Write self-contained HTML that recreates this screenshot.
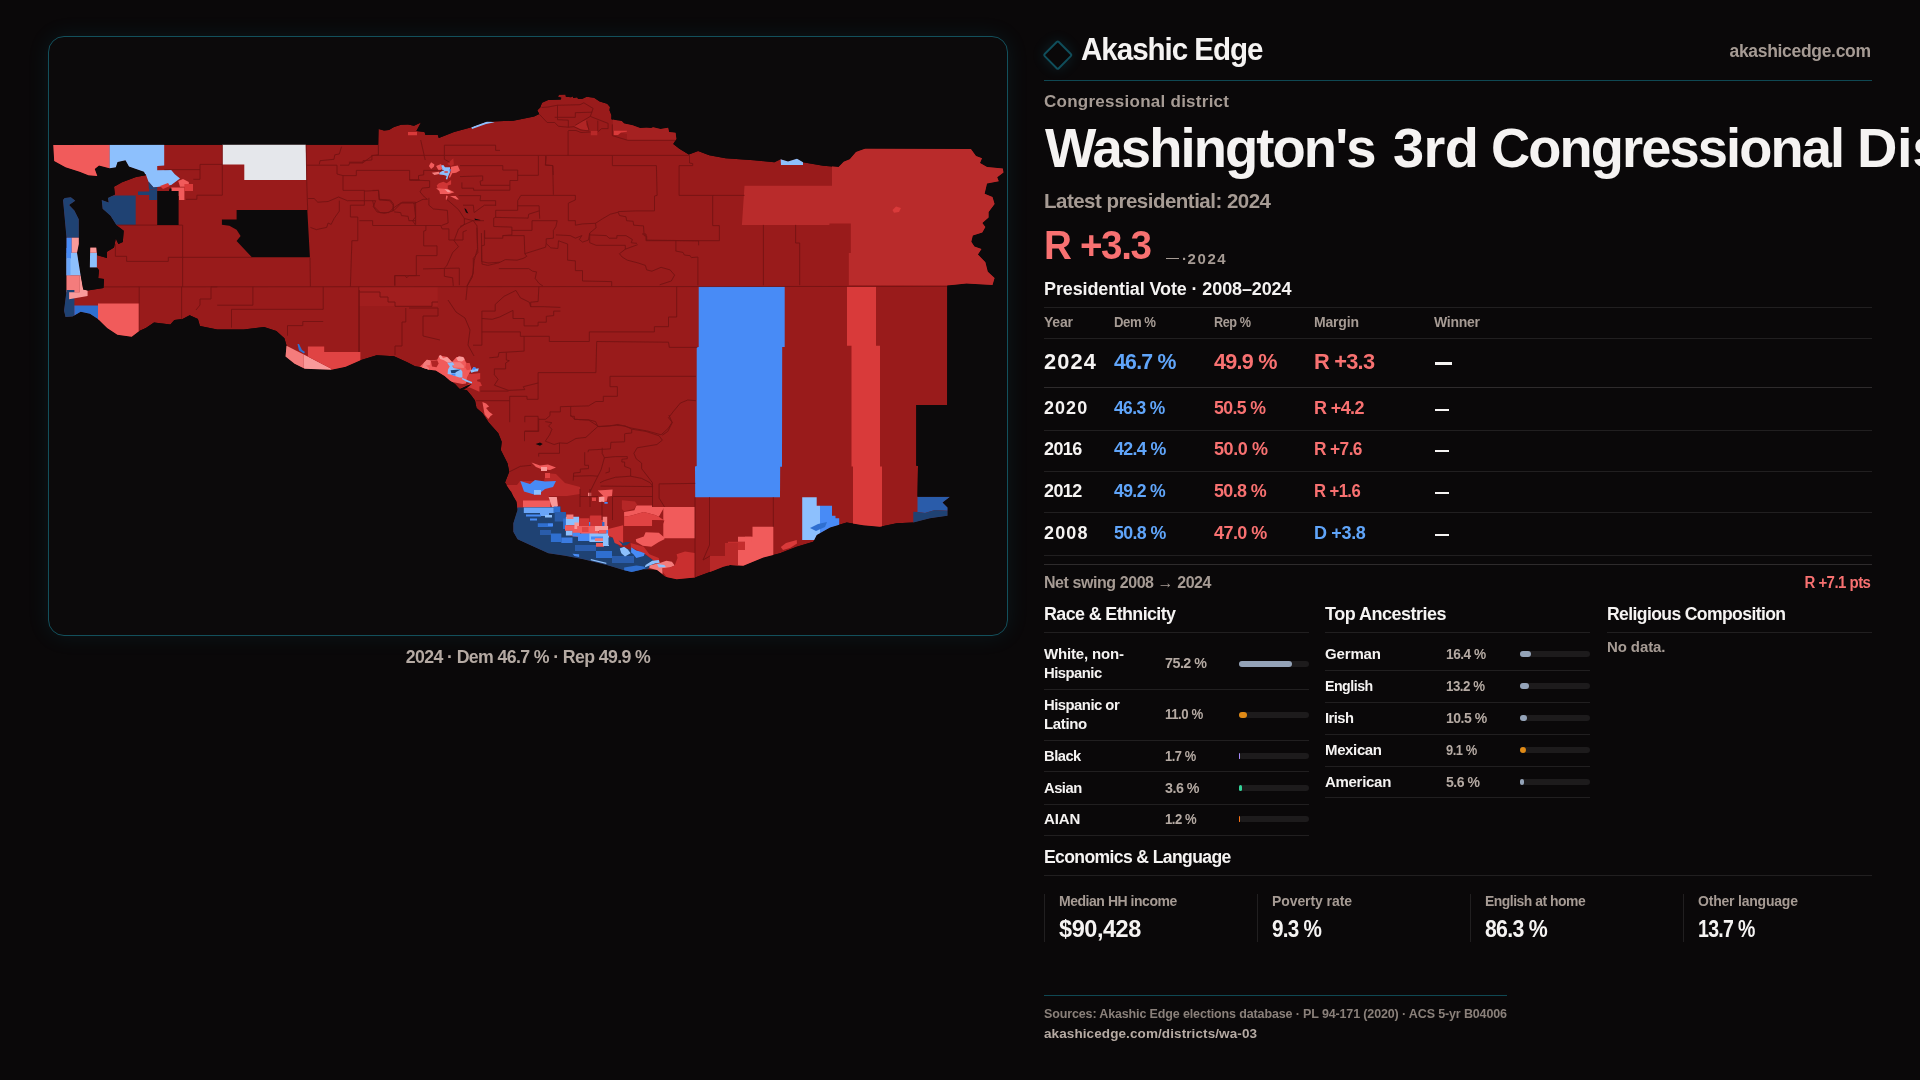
<!DOCTYPE html><html><head><meta charset="utf-8"><title>Washington's 3rd Congressional District</title><style>
html,body{margin:0;padding:0;background:#0a0809;}
body{width:1920px;height:1080px;overflow:hidden;position:relative;font-family:"Liberation Sans",sans-serif;}
.t{position:absolute;white-space:nowrap;line-height:1;font-weight:700;}
.b{position:absolute;}
.tl{position:absolute;left:0;top:0;width:1920px;height:1080px;will-change:transform;}
.frame{position:absolute;left:48px;top:36px;width:958px;height:598px;border:1px solid #13505c;border-radius:16px;background:#0c0a0b;box-shadow:0 0 22px rgba(30,170,200,0.10);overflow:hidden;}
.map{position:absolute;left:-1px;top:-1px;}
.logo{position:absolute;left:1047.2px;top:43.7px;width:17.5px;height:17.5px;border:2px solid #104e5b;border-radius:2.5px;transform:rotate(45deg);box-shadow:0 0 14px rgba(30,170,200,0.16);}
</style></head><body>
<div class="frame"><svg class="map" viewBox="48 36 960 600" width="960" height="600" shape-rendering="geometricPrecision">
<defs><clipPath id="d"><polygon points="53.3,144.9 378.3,144.8 378.7,128.9 384.0,130.5 388.9,129.9 394.0,127.0 401.0,124.8 408.0,124.6 414.0,125.8 421.0,122.4 416.4,131.0 424.5,132.0 425.5,135.0 437.8,135.0 438.8,138.0 454.0,132.0 471.4,127.3 486.7,121.8 513.2,120.7 534.1,116.4 539.2,114.1 537.3,110.3 540.2,107.5 542.0,102.8 548.1,100.0 560.8,99.5 561.3,97.7 558.0,96.7 558.9,94.8 565.5,94.6 565.9,96.7 571.1,97.2 572.5,96.3 573.4,98.1 577.2,97.2 578.1,99.1 581.9,99.1 586.6,96.7 594.1,97.7 599.7,101.4 607.2,103.8 610.0,107.0 609.5,110.3 611.4,115.0 611.4,119.2 617.5,120.6 621.7,121.1 624.1,123.4 632.5,125.3 640.0,128.1 646.6,127.7 651.2,128.1 653.1,127.2 660.6,129.1 668.1,127.7 669.1,131.9 675.6,132.8 676.4,138.9 673.3,144.1 679.4,148.8 688.8,154.4 698.1,151.1 709.3,155.2 725.6,158.2 754.0,160.3 774.4,162.3 780.5,159.3 788.0,161.5 797.0,158.8 803.0,162.3 823.3,165.8 838.6,167.0 843.7,161.7 849.8,159.3 856.0,152.1 865.0,148.7 970.9,148.9 976.0,156.0 982.0,158.3 980.0,163.0 987.0,167.0 1002.8,168.6 1003.5,172.5 997.2,177.2 998.8,181.2 987.0,183.5 984.6,193.8 992.5,196.9 994.6,204.0 988.6,211.9 988.6,217.4 982.3,222.9 985.4,226.9 982.3,232.4 972.8,235.5 971.3,241.8 974.4,246.5 981.5,248.9 977.9,254.4 985.4,262.3 987.8,271.7 994.6,278.0 992.5,285.1 966.5,283.5 947.3,285.6 947.2,404.9 916.3,404.9 916.3,465.8 918.0,466.0 917.5,496.7 950.0,496.7 942.5,502.5 947.5,507.5 947.5,515.8 930.0,518.3 913.3,522.5 896.7,523.3 880.0,526.7 863.3,525.3 846.7,522.5 830.0,527.5 816.7,535.0 813.3,541.7 796.7,546.7 780.0,553.3 763.3,557.5 743.3,565.8 730.0,565.0 723.3,566.7 713.3,570.8 695.0,577.5 676.7,579.2 665.0,576.7 656.7,570.0 643.3,569.2 631.7,572.0 623.3,570.0 606.7,565.0 583.3,559.2 565.0,555.8 548.3,553.3 531.7,545.8 517.5,539.2 513.3,531.7 513.3,523.3 517.5,510.0 516.7,501.7 510.8,491.7 505.0,482.5 509.2,471.7 507.5,463.3 500.8,450.0 501.7,441.7 498.3,433.3 488.7,422.4 482.6,413.2 476.5,408.0 475.0,400.6 471.3,395.4 466.9,390.2 459.4,388.7 455.0,384.0 449.8,380.6 444.6,376.1 435.7,370.6 429.0,369.8 421.0,367.2 415.0,366.2 407.2,362.3 394.0,356.2 376.7,355.2 360.4,360.3 345.6,366.8 331.3,369.8 304.8,368.8 294.6,363.7 285.5,356.6 286.5,345.4 284.4,338.2 276.3,331.1 264.0,327.0 243.7,329.5 217.2,329.5 199.9,326.0 197.9,318.9 189.7,315.2 182.6,318.9 174.4,319.9 170.4,324.6 162.2,323.4 154.0,322.6 145.9,328.0 139.2,331.1 131.7,336.8 117.4,334.8 107.2,328.0 98.0,318.9 89.9,313.8 80.7,311.8 72.6,316.4 65.5,316.9 64.0,310.7 66.5,291.0 66.5,237.7 63.0,200.0 64.7,198.1 70.9,197.2 75.3,200.7 69.1,205.1 74.4,210.4 78.8,219.2 78.8,243.9 77.0,252.7 80.6,275.6 83.2,289.6 87.6,290.5 103.5,287.9 104.0,279.1 98.2,278.2 99.0,270.3 96.9,267.6 89.7,267.6 90.3,247.4 96.4,247.4 97.3,255.3 107.0,258.0 107.0,251.8 114.0,247.4 115.8,238.6 118.4,243.9 122.8,242.1 123.7,230.7 116.7,225.4 110.5,215.7 102.6,208.7 101.7,199.9 108.7,202.5 107.9,198.1 114.9,194.6 114.0,186.7 122.0,182.3 136.0,177.0 145.7,175.2 144.0,171.7 129.0,166.4 125.5,160.2 117.5,162.0 115.8,167.3 109.6,168.2 99.0,165.5 94.7,169.0 97.3,176.1 88.5,175.2 79.7,171.7 65.6,167.3 54.2,161.1"/></clipPath></defs>
<g clip-path="url(#d)">
<polygon points="53.3,144.9 378.3,144.8 378.7,128.9 384.0,130.5 388.9,129.9 394.0,127.0 401.0,124.8 408.0,124.6 414.0,125.8 421.0,122.4 416.4,131.0 424.5,132.0 425.5,135.0 437.8,135.0 438.8,138.0 454.0,132.0 471.4,127.3 486.7,121.8 513.2,120.7 534.1,116.4 539.2,114.1 537.3,110.3 540.2,107.5 542.0,102.8 548.1,100.0 560.8,99.5 561.3,97.7 558.0,96.7 558.9,94.8 565.5,94.6 565.9,96.7 571.1,97.2 572.5,96.3 573.4,98.1 577.2,97.2 578.1,99.1 581.9,99.1 586.6,96.7 594.1,97.7 599.7,101.4 607.2,103.8 610.0,107.0 609.5,110.3 611.4,115.0 611.4,119.2 617.5,120.6 621.7,121.1 624.1,123.4 632.5,125.3 640.0,128.1 646.6,127.7 651.2,128.1 653.1,127.2 660.6,129.1 668.1,127.7 669.1,131.9 675.6,132.8 676.4,138.9 673.3,144.1 679.4,148.8 688.8,154.4 698.1,151.1 709.3,155.2 725.6,158.2 754.0,160.3 774.4,162.3 780.5,159.3 788.0,161.5 797.0,158.8 803.0,162.3 823.3,165.8 838.6,167.0 843.7,161.7 849.8,159.3 856.0,152.1 865.0,148.7 970.9,148.9 976.0,156.0 982.0,158.3 980.0,163.0 987.0,167.0 1002.8,168.6 1003.5,172.5 997.2,177.2 998.8,181.2 987.0,183.5 984.6,193.8 992.5,196.9 994.6,204.0 988.6,211.9 988.6,217.4 982.3,222.9 985.4,226.9 982.3,232.4 972.8,235.5 971.3,241.8 974.4,246.5 981.5,248.9 977.9,254.4 985.4,262.3 987.8,271.7 994.6,278.0 992.5,285.1 966.5,283.5 947.3,285.6 947.2,404.9 916.3,404.9 916.3,465.8 918.0,466.0 917.5,496.7 950.0,496.7 942.5,502.5 947.5,507.5 947.5,515.8 930.0,518.3 913.3,522.5 896.7,523.3 880.0,526.7 863.3,525.3 846.7,522.5 830.0,527.5 816.7,535.0 813.3,541.7 796.7,546.7 780.0,553.3 763.3,557.5 743.3,565.8 730.0,565.0 723.3,566.7 713.3,570.8 695.0,577.5 676.7,579.2 665.0,576.7 656.7,570.0 643.3,569.2 631.7,572.0 623.3,570.0 606.7,565.0 583.3,559.2 565.0,555.8 548.3,553.3 531.7,545.8 517.5,539.2 513.3,531.7 513.3,523.3 517.5,510.0 516.7,501.7 510.8,491.7 505.0,482.5 509.2,471.7 507.5,463.3 500.8,450.0 501.7,441.7 498.3,433.3 488.7,422.4 482.6,413.2 476.5,408.0 475.0,400.6 471.3,395.4 466.9,390.2 459.4,388.7 455.0,384.0 449.8,380.6 444.6,376.1 435.7,370.6 429.0,369.8 421.0,367.2 415.0,366.2 407.2,362.3 394.0,356.2 376.7,355.2 360.4,360.3 345.6,366.8 331.3,369.8 304.8,368.8 294.6,363.7 285.5,356.6 286.5,345.4 284.4,338.2 276.3,331.1 264.0,327.0 243.7,329.5 217.2,329.5 199.9,326.0 197.9,318.9 189.7,315.2 182.6,318.9 174.4,319.9 170.4,324.6 162.2,323.4 154.0,322.6 145.9,328.0 139.2,331.1 131.7,336.8 117.4,334.8 107.2,328.0 98.0,318.9 89.9,313.8 80.7,311.8 72.6,316.4 65.5,316.9 64.0,310.7 66.5,291.0 66.5,237.7 63.0,200.0 64.7,198.1 70.9,197.2 75.3,200.7 69.1,205.1 74.4,210.4 78.8,219.2 78.8,243.9 77.0,252.7 80.6,275.6 83.2,289.6 87.6,290.5 103.5,287.9 104.0,279.1 98.2,278.2 99.0,270.3 96.9,267.6 89.7,267.6 90.3,247.4 96.4,247.4 97.3,255.3 107.0,258.0 107.0,251.8 114.0,247.4 115.8,238.6 118.4,243.9 122.8,242.1 123.7,230.7 116.7,225.4 110.5,215.7 102.6,208.7 101.7,199.9 108.7,202.5 107.9,198.1 114.9,194.6 114.0,186.7 122.0,182.3 136.0,177.0 145.7,175.2 144.0,171.7 129.0,166.4 125.5,160.2 117.5,162.0 115.8,167.3 109.6,168.2 99.0,165.5 94.7,169.0 97.3,176.1 88.5,175.2 79.7,171.7 65.6,167.3 54.2,161.1" fill="#991b1b"/>
<polygon points="613.0,117.0 682.0,117.0 682.0,140.2 627.0,140.2 627.0,134.0 613.0,131.0" fill="#a52121"/>
<polygon points="574.4,126.3 580.9,121.6 587.0,119.7 586.1,124.4 588.9,130.0 585.6,130.9 580.0,129.1" fill="#b02525"/>
<polygon points="590.8,130.9 597.3,130.9 597.3,135.2 590.8,135.2" fill="#b82828"/>
<polygon points="613.8,130.8 626.9,130.8 626.9,131.8 621.0,132.5 618.0,135.0 613.8,135.0" fill="#d93a3a"/>
<polygon points="408.0,132.0 417.0,132.0 417.0,135.2 408.0,135.2" fill="#d93a3a"/>
<polygon points="358.5,286.7 437.8,286.7 437.8,306.0 358.5,306.0" fill="#a11e1e"/>
<polygon points="52.0,144.0 109.6,144.0 109.6,182.0 52.0,182.0" fill="#f15b5b"/>
<polygon points="109.6,144.0 164.2,144.0 164.2,165.5 157.2,166.0 157.2,170.3 171.2,170.0 174.8,174.3 180.0,178.4 171.2,184.9 164.2,186.1 153.6,187.5 148.4,181.4 145.7,174.0 109.6,174.0" fill="#8dc0fd"/>
<polygon points="222.3,144.0 305.8,144.0 306.5,179.9 244.3,179.9 244.3,164.6 222.3,164.6" fill="#e5e7eb"/>
<polygon points="100.0,195.5 135.7,195.5 135.7,225.0 100.0,225.0" fill="#1f4273"/>
<polygon points="138.0,191.5 149.2,191.5 149.2,189.5 157.2,189.5 157.2,200.0 149.2,200.0 149.2,195.0 138.0,195.0" fill="#1f4273"/>
<polygon points="148.4,181.4 153.6,187.5 157.2,187.0 157.2,189.5 149.0,189.5" fill="#1f4273"/>
<polygon points="171.2,187.5 184.4,187.5 184.4,199.9 179.0,199.9 179.0,196.0 171.2,196.0" fill="#f15b5b"/>
<polygon points="178.3,181.0 183.0,179.0 188.8,182.0 188.8,186.7 180.0,186.7" fill="#f15b5b"/>
<polygon points="184.4,184.0 193.0,184.0 193.0,191.0 184.4,191.0" fill="#d93a3a"/>
<polygon points="160.0,186.0 168.0,183.0 170.0,186.0 163.0,189.0" fill="#d93a3a"/>
<polygon points="60.0,195.0 80.0,195.0 80.0,237.7 60.0,237.7" fill="#1f4273"/>
<polygon points="64.0,237.7 71.8,237.7 71.8,252.7 64.0,252.7" fill="#488bf6"/>
<polygon points="71.8,237.7 80.0,237.7 80.0,252.7 71.8,252.7" fill="#f99a9a"/>
<polygon points="64.0,252.7 82.0,252.7 82.0,275.6 64.0,275.6" fill="#8dc0fd"/>
<polygon points="64.0,248.0 71.0,248.0 71.0,258.5 64.0,258.5" fill="#488bf6"/>
<polygon points="64.0,258.5 70.5,258.5 70.5,275.6 64.0,275.6" fill="#6aa5f8"/>
<polygon points="64.0,275.6 79.7,275.6 79.7,292.3 64.0,292.3" fill="#f47c7c"/>
<polygon points="60.0,290.0 74.4,290.0 74.4,320.0 60.0,320.0" fill="#1f4273"/>
<polygon points="79.7,275.6 81.0,275.6 83.2,289.6 87.6,290.5 87.6,296.0 69.1,299.3 69.1,292.3 79.7,292.3" fill="#f99a9a"/>
<polygon points="74.4,305.5 99.6,305.5 99.6,320.0 74.4,320.0" fill="#2f6fd0"/>
<polygon points="89.5,252.7 96.9,252.7 96.9,267.8 89.5,267.8" fill="#8dc0fd"/>
<polygon points="90.0,247.2 96.6,247.2 96.6,252.7 90.0,252.7" fill="#f99a9a"/>
<polygon points="98.0,303.6 139.2,303.6 139.2,342.0 98.0,342.0" fill="#f15b5b"/>
<polygon points="283.0,345.8 286.5,345.8 303.8,354.5 303.8,371.0 283.0,371.0" fill="#f47c7c"/>
<polygon points="303.8,354.5 331.3,368.8 331.3,372.0 303.8,372.0" fill="#f99a9a"/>
<polygon points="307.9,346.4 324.2,346.4 324.2,351.9 360.4,351.9 360.4,372.0 331.3,372.0 331.3,368.8 307.9,356.5" fill="#e04343"/>
<polygon points="297.5,344.0 299.0,344.0 302.0,350.0 305.0,352.0 304.0,353.4 299.0,350.5" fill="#2f6fd0"/>
<polygon points="459.4,388.7 466.9,385.0 471.3,382.0 462.4,377.6 463.9,373.1 471.3,373.9 480.2,373.1 480.2,379.1 477.2,379.8 477.2,381.3 480.2,382.0 482.0,385.7 479.4,386.5 479.4,391.7 469.8,387.6" fill="#d03535"/>
<polygon points="420.0,366.5 423.9,362.8 426.9,359.8 430.6,360.6 437.2,359.8 439.4,355.4 447.6,356.9 452.0,362.0 456.5,356.9 463.9,357.6 466.1,362.8 469.8,363.5 471.3,369.4 466.9,377.6 466.1,383.5 462.4,384.0 449.8,381.5 444.6,377.0 436.5,372.0 429.1,372.0" fill="#f15b5b"/>
<polygon points="430.9,360.9 437.2,360.2 438.7,363.5 436.5,367.2 432.0,366.5" fill="#b02424"/>
<polygon points="422.4,367.0 423.9,362.8 426.9,359.8 430.6,360.6 430.0,365.0 426.0,365.5 429.0,368.0 429.1,372.0 422.0,369.0" fill="#f47c7c"/>
<polygon points="438.7,356.1 440.9,355.0 443.1,358.3 446.9,356.9 452.0,361.7 447.6,362.4 443.9,360.2 440.2,359.1" fill="#f99a9a"/>
<polygon points="456.2,358.0 459.0,356.3 463.2,357.0 464.6,359.5 462.0,361.6 458.0,361.0" fill="#f99a9a"/>
<polygon points="452.8,362.2 460.2,362.2 463.9,365.7 463.9,368.0 453.5,367.6" fill="#f47c7c"/>
<polygon points="466.1,362.8 469.8,363.5 470.2,369.4 466.9,370.2 465.4,367.2" fill="#e04343"/>
<polygon points="447.2,362.8 452.8,362.2 454.3,365.0 452.0,365.7 453.5,368.0 460.9,369.4 462.4,371.7 462.4,377.6 459.4,377.6 455.0,376.1 450.6,374.6 447.6,373.9 448.0,369.4 449.8,366.5" fill="#8dc0fd"/>
<polygon points="450.6,370.2 456.5,369.8 460.9,369.4 456.5,371.7 455.0,373.1 451.3,373.1" fill="#1f4273"/>
<polygon points="451.3,373.5 455.4,373.5 455.4,376.1 453.5,375.4 451.3,374.6" fill="#488bf6"/>
<polygon points="462.4,378.0 472.0,382.0 472.0,383.5 466.9,382.0 461.7,379.1" fill="#8dc0fd"/>
<polygon points="470.2,370.6 472.0,369.4 473.5,367.2 476.5,368.7 478.7,368.3 478.0,371.3 474.3,371.7 471.3,372.8" fill="#8dc0fd"/>
<polygon points="472.0,369.4 473.5,366.9 475.4,367.2 476.5,368.7 474.3,369.8" fill="#488bf6"/>
<polygon points="459.0,389.2 466.9,385.4 472.0,383.8 467.5,387.6 462.0,390.4" fill="#0c0a0b"/>
<polygon points="482.4,402.0 486.1,403.5 489.1,406.5 486.1,408.0 489.1,411.7 492.8,414.6 490.6,416.1 488.3,419.1 484.6,414.6" fill="#f15b5b"/>
<polygon points="428.9,166.1 431.1,162.2 434.4,164.4 433.9,166.7 431.1,168.9" fill="#f15b5b"/>
<polygon points="436.1,166.1 441.1,163.9 442.2,168.9 438.9,171.1" fill="#f15b5b"/>
<polygon points="431.7,172.8 438.9,171.7 439.4,173.9 434.4,175.0" fill="#f47c7c"/>
<polygon points="447.2,163.9 453.3,158.3 453.9,164.4 451.1,166.1" fill="#b82828"/>
<polygon points="451.1,166.7 457.8,165.6 460.0,170.6 456.1,172.8 452.2,173.3 450.0,177.8 448.9,177.2 450.6,172.2" fill="#f15b5b"/>
<polygon points="441.1,165.6 443.3,165.0 445.0,167.2 450.0,167.2 450.0,172.2 448.3,176.1 447.2,179.4 445.8,178.9 446.7,176.1 443.9,175.0 439.4,174.4 439.4,172.8 442.2,171.1 442.2,168.3" fill="#8dc0fd"/>
<polygon points="444.4,171.2 447.8,171.2 447.8,172.8 444.4,172.8" fill="#d93a3a"/>
<polygon points="449.4,169.0 450.6,169.0 450.6,171.5 449.4,171.5" fill="#488bf6"/>
<polygon points="436.7,185.6 438.9,183.3 443.3,181.7 446.7,183.3 451.1,180.0 451.1,184.4 447.8,185.6 447.8,188.9 437.8,188.9" fill="#d03535"/>
<polygon points="436.1,188.3 447.8,188.9 454.4,192.2 448.9,193.9 440.0,193.9 439.4,191.1" fill="#f15b5b"/>
<polygon points="444.4,188.9 448.9,190.0 451.1,192.2 447.8,192.2" fill="#f99a9a"/>
<polygon points="446.1,195.6 447.8,196.1 446.7,200.0 445.8,199.4" fill="#f15b5b"/>
<polygon points="450.0,196.1 455.6,196.1 458.9,199.4 456.7,199.4" fill="#f15b5b"/>
<polygon points="471.4,127.3 480.0,123.5 486.7,121.3 494.8,122.3 486.0,124.0 479.0,126.5 472.0,129.0" fill="#8dc0fd"/>
<polygon points="464.3,208.3 466.0,209.0 468.3,213.4 466.0,212.5" fill="#0c0a0b"/>
<polygon points="474.4,218.5 480.6,220.0 480.0,220.8 475.0,220.0" fill="#0c0a0b"/>
<polygon points="535.6,444.0 540.0,442.6 542.7,444.0 540.0,445.8" fill="#0c0a0b"/>
<polygon points="832.0,150.0 1010.0,140.0 1010.0,290.0 947.3,285.6 848.8,285.2 848.8,253.0 850.8,253.0 850.8,223.4 829.4,223.4 829.4,224.9 741.9,224.9 744.5,185.7 832.0,185.7" fill="#b92b2b"/>
<polygon points="892.5,210.0 896.0,206.4 901.0,208.0 899.0,212.0 894.0,212.7" fill="#d93a3a"/>
<polygon points="780.5,157.0 803.0,157.0 803.0,165.0 781.0,165.0" fill="#8dc0fd"/>
<polygon points="698.7,286.3 784.7,286.3 784.7,347.0 782.2,347.0 782.0,466.7 780.2,466.7 780.0,497.3 695.2,497.3 695.0,466.6 696.7,466.0 696.7,347.0 698.7,347.0" fill="#488bf6"/>
<polygon points="847.0,286.3 876.0,286.3 876.0,345.8 880.0,345.8 880.0,466.6 882.0,466.6 882.0,530.0 853.0,530.0 853.0,466.6 851.5,466.6 851.5,345.8 847.0,345.8" fill="#d93a3a"/>
<polygon points="917.5,496.7 952.0,496.7 952.0,511.0 935.0,510.0 925.0,513.0 917.5,512.0" fill="#2a5caa"/>
<polygon points="913.3,511.7 917.5,512.0 925.0,513.0 935.0,510.0 952.0,511.0 952.0,520.0 913.3,525.0" fill="#1f4273"/>
<polygon points="802.2,497.2 816.7,497.2 816.7,505.8 820.0,505.8 820.0,540.0 802.2,540.0" fill="#8dc0fd"/>
<polygon points="820.0,505.8 832.0,505.8 832.0,515.8 835.5,515.8 835.5,518.3 839.2,518.3 839.2,532.0 820.0,540.0" fill="#488bf6"/>
<polygon points="810.0,528.0 818.0,524.0 827.0,522.0 825.0,527.0 816.0,531.0" fill="#2f6fd0"/>
<polygon points="752.5,526.7 773.3,526.7 773.3,572.0 738.0,572.0 738.0,550.0 745.0,550.0 745.0,536.7 752.5,536.7" fill="#f15b5b"/>
<polygon points="728.0,541.7 745.0,541.7 745.0,550.0 738.0,550.0 738.0,572.0 728.0,572.0" fill="#c42d2d"/>
<polygon points="780.8,547.0 786.0,543.0 796.7,540.0 797.0,543.5 790.0,548.0 783.0,550.0" fill="#d93a3a"/>
<polygon points="738.0,536.7 751.5,536.7 751.5,541.7 738.0,541.7" fill="#f15b5b"/>
<polygon points="504.0,485.0 517.0,485.0 520.0,481.0 544.0,481.0 546.0,473.0 556.0,474.0 565.0,483.0 580.0,487.0 580.0,494.0 567.0,496.0 549.0,496.0 550.0,502.5 523.0,502.5 523.0,508.0 515.0,508.0 512.0,492.0" fill="#b82828"/>
<polygon points="531.5,462.5 540.0,465.5 548.0,464.5 556.0,467.5 550.0,470.0 541.0,469.0 536.0,467.0" fill="#f15b5b"/>
<polygon points="541.0,467.0 547.0,467.0 547.0,471.0 541.0,471.0" fill="#f99a9a"/>
<polygon points="545.0,473.0 550.0,473.0 550.0,478.0 545.0,478.0" fill="#e04343"/>
<polygon points="520.3,481.0 530.0,484.0 535.0,480.0 545.0,481.5 556.0,481.0 553.0,487.0 545.0,489.0 540.0,493.0 534.0,494.5 524.0,491.5" fill="#488bf6"/>
<polygon points="534.0,490.0 541.0,490.0 541.0,494.8 534.0,494.8" fill="#8dc0fd"/>
<polygon points="523.0,500.5 550.5,500.5 550.5,507.5 523.0,507.5" fill="#f15b5b"/>
<polygon points="548.6,497.0 556.8,497.0 557.9,505.8 554.1,511.2 551.9,506.9" fill="#f99a9a"/>
<polygon points="515.0,507.4 559.4,506.9 560.3,506.0 561.0,512.0 565.9,512.1 566.0,530.0 570.0,536.0 580.0,536.7 590.0,540.0 606.7,536.7 613.3,540.0 620.0,546.7 631.7,550.0 643.3,553.3 653.3,560.0 653.1,564.0 648.0,569.0 631.7,574.0 600.0,568.0 560.0,559.0 530.0,549.0 510.0,537.0 510.0,520.0" fill="#1f4273"/>
<polygon points="523.8,507.4 553.8,507.4 553.8,513.0 549.0,513.0 549.0,516.0 540.0,516.0 540.0,513.0 523.8,513.0" fill="#6aa5f8"/>
<polygon points="526.0,514.5 541.0,514.5 541.0,516.5 526.0,516.5" fill="#488bf6"/>
<polygon points="545.0,515.0 552.0,515.0 552.0,517.5 545.0,517.5" fill="#8dc0fd"/>
<polygon points="530.0,518.5 537.0,518.5 537.0,520.5 530.0,520.5" fill="#488bf6"/>
<polygon points="553.8,506.4 560.3,506.4 560.3,513.0 553.8,513.0" fill="#2f6fd0"/>
<polygon points="554.7,512.1 565.9,512.1 565.9,521.4 554.7,521.4" fill="#2a5caa"/>
<polygon points="563.1,518.6 566.9,518.6 566.9,528.9 563.1,528.9" fill="#2f6fd0"/>
<polygon points="537.8,523.3 552.8,523.3 552.8,527.1 537.8,527.1" fill="#2f6fd0"/>
<polygon points="548.0,523.5 553.0,523.5 553.0,526.0 548.0,526.0" fill="#488bf6"/>
<polygon points="550.9,533.6 561.3,533.6 561.3,542.1 550.9,542.1" fill="#2f6fd0"/>
<polygon points="561.3,537.4 572.5,537.4 572.5,543.0 561.3,543.0" fill="#3b7be0"/>
<polygon points="540.0,530.0 551.0,530.0 551.0,535.0 540.0,535.0" fill="#2a5caa"/>
<polygon points="575.0,545.0 596.0,545.0 596.0,551.0 575.0,551.0" fill="#2a5caa"/>
<polygon points="596.0,551.0 612.0,551.0 612.0,558.0 596.0,558.0" fill="#2f6fd0"/>
<polygon points="612.0,556.0 634.0,556.0 634.0,563.0 612.0,563.0" fill="#2a5caa"/>
<polygon points="572.5,553.8 579.1,554.3 579.1,557.1 574.4,556.1" fill="#488bf6"/>
<polygon points="565.9,516.8 579.1,516.8 579.1,525.2 565.9,525.2" fill="#8dc0fd"/>
<polygon points="566.4,514.4 573.4,514.4 573.4,519.1 566.4,519.1" fill="#f47c7c"/>
<polygon points="565.0,525.2 576.0,525.2 580.0,531.0 580.0,537.0 572.5,536.0 572.5,530.8 565.0,530.8" fill="#f15b5b"/>
<polygon points="574.4,522.4 579.1,522.4 579.1,529.0 574.4,529.0" fill="#f99a9a"/>
<polygon points="565.9,530.8 572.5,530.8 572.5,535.5 565.9,535.5" fill="#8dc0fd"/>
<polygon points="572.5,532.7 580.0,532.7 580.0,536.4 572.5,536.4" fill="#488bf6"/>
<polygon points="579.1,518.2 589.4,518.2 589.4,526.1 579.1,526.1" fill="#d03535"/>
<polygon points="589.8,516.3 602.0,516.3 602.0,523.3 589.8,523.3" fill="#d03535"/>
<polygon points="602.5,516.8 607.2,516.8 607.2,526.1 602.5,526.1" fill="#f47c7c"/>
<polygon points="588.0,521.9 604.4,521.9 604.4,527.1 588.0,527.1" fill="#2f6fd0"/>
<polygon points="588.0,521.9 594.0,521.9 594.0,524.5 588.0,524.5" fill="#488bf6"/>
<polygon points="577.2,526.1 598.7,526.1 598.7,535.5 584.0,535.5 577.2,531.0" fill="#f15b5b"/>
<polygon points="582.0,527.0 588.5,527.0 588.5,532.0 582.0,532.0" fill="#e04343"/>
<polygon points="595.0,526.1 608.1,526.1 608.1,531.0 595.0,531.0" fill="#f99a9a"/>
<polygon points="599.0,530.0 607.0,530.0 607.0,533.6 599.0,533.6" fill="#f15b5b"/>
<polygon points="606.3,529.9 612.8,529.9 612.8,535.5 606.3,535.5" fill="#488bf6"/>
<polygon points="578.0,533.5 590.0,533.5 590.0,541.0 578.0,541.0" fill="#488bf6"/>
<polygon points="589.4,533.6 609.1,533.6 609.1,542.1 589.4,542.1" fill="#8dc0fd"/>
<polygon points="591.0,536.5 603.0,536.5 603.0,539.5 591.0,539.5" fill="#488bf6"/>
<polygon points="595.0,538.3 603.0,538.3 603.0,541.0 595.0,541.0" fill="#f47c7c"/>
<polygon points="596.0,543.0 604.0,543.0 604.0,546.7 596.0,546.7" fill="#f15b5b"/>
<polygon points="603.0,541.0 609.0,541.0 609.0,546.0 603.0,546.0" fill="#8dc0fd"/>
<polygon points="608.5,537.4 614.7,537.4 614.7,544.9 608.5,544.9" fill="#1f4273"/>
<polygon points="608.1,528.9 623.1,525.2 623.1,543.0 621.3,545.8 614.7,543.0 612.8,537.4 608.1,535.5" fill="#d83a3a"/>
<polygon points="618.4,540.2 623.1,543.0 625.9,542.1 630.6,542.1 626.9,544.9 623.1,545.8" fill="#1f4273"/>
<polygon points="630.6,543.0 643.8,546.8 649.4,554.3 658.8,558.0 659.7,562.7 653.1,559.9 645.6,554.3 640.0,551.4 631.1,547.2" fill="#c42d2d"/>
<polygon points="619.8,548.6 624.1,546.8 627.8,549.6 630.6,553.3 625.0,556.6 621.3,553.3" fill="#8dc0fd"/>
<polygon points="631.1,547.2 636.3,550.5 640.0,551.4 644.7,553.3 643.8,556.1 636.3,558.0 633.4,554.3 631.1,552.4" fill="#488bf6"/>
<polygon points="590.8,558.9 606.3,562.7 606.3,564.1 590.8,560.3" fill="#8dc0fd"/>
<polygon points="624.1,567.4 636.3,565.5 643.8,566.4 645.6,568.3 636.3,572.0 630.6,573.0 624.1,572.0" fill="#2f6fd0"/>
<polygon points="649.4,565.5 660.6,562.7 666.3,560.8 671.9,561.7 674.7,565.5 670.0,567.4 662.5,568.3 662.5,574.0 656.9,570.0 649.4,568.0" fill="#f47c7c"/>
<polygon points="652.2,560.8 658.8,559.9 659.7,562.7 655.0,563.6 649.4,565.5 644.7,567.4 645.6,565.0" fill="#8dc0fd"/>
<polygon points="656.9,564.1 664.4,565.0 665.8,566.9 658.8,567.4" fill="#8dc0fd"/>
<polygon points="663.3,506.9 695.0,506.9 695.0,538.3 663.3,538.3" fill="#f15b5b"/>
<polygon points="624.1,512.1 634.4,510.2 636.3,505.5 652.2,505.5 652.2,506.9 664.4,506.9 658.8,516.8 655.0,514.9 643.8,512.1 630.6,515.8 624.1,516.8" fill="#f15b5b"/>
<polygon points="624.1,516.8 630.6,515.8 643.8,512.1 655.0,514.9 658.8,516.8 664.4,520.5 652.2,520.0 652.2,526.1 624.1,526.1" fill="#e04343"/>
<polygon points="652.2,520.0 664.4,520.5 662.5,525.2 658.8,526.1 652.2,526.1" fill="#991b1b"/>
<polygon points="635.8,539.2 643.8,536.4 645.6,532.2 658.8,532.7 664.4,537.4 664.4,539.2 658.8,542.1 651.3,546.7 642.8,545.8 636.3,542.1" fill="#f15b5b"/>
<polygon points="621.9,500.3 635.0,501.4 637.2,504.7 633.9,509.1 624.0,511.2 621.9,509.1" fill="#b52727"/>
<polygon points="676.6,554.3 685.0,551.4 695.0,553.0 695.0,582.0 669.1,580.0 663.4,573.0 662.5,568.3 670.0,567.4 674.7,565.5 677.5,558.0" fill="#c92f2f"/>
<polygon points="710.0,556.0 725.0,556.0 725.0,543.0 738.0,543.0 738.0,572.0 710.0,577.0" fill="#b82828"/>
<polygon points="597.8,490.5 612.6,489.4 612.0,495.9 607.7,496.5 606.6,501.4 598.9,501.4 598.9,497.0 603.3,495.9" fill="#f15b5b"/>
<polygon points="598.9,497.0 604.4,497.0 604.4,502.0 598.9,502.0" fill="#f99a9a"/>
<polygon points="588.0,492.7 591.2,492.7 591.2,497.0 588.0,497.0" fill="#f47c7c"/>
<polygon points="592.0,497.5 596.0,497.5 596.0,501.0 592.0,501.0" fill="#e04343"/>
<polygon points="604.4,502.0 607.7,502.0 607.7,503.8 604.4,503.8" fill="#488bf6"/>
<polygon points="590.2,515.6 602.2,515.6 602.2,526.0 590.2,526.0" fill="#d03535"/>
<polygon points="579.2,519.0 589.0,519.0 589.0,526.0 579.2,526.0" fill="#d03535"/>
<path d="M306.2 144.7 L306.7 180.0 L307.7 210.4 M310.0 257.8 L310.4 286.7 M104.0 286.9 L947.0 286.4 M116.4 225.1 L182.6 225.1 L182.6 257.3 M115.4 244.0 L115.4 256.3 L126.6 256.3 L126.6 261.4 L168.3 261.4 L168.3 257.3 L251.9 257.3 M164.3 169.6 L200.0 169.6 L200.0 164.4 L222.3 164.4 M222.3 144.7 L222.3 195.2 M222.3 195.2 L196.9 195.2 L196.9 199.3 L186.0 199.3 M200.0 169.6 L200.0 179.3 L193.3 179.3 M139.2 286.9 L139.2 333.7 M181.6 286.9 L181.6 321.5 M351.9 240.7 L350.4 286.7 M357.8 217.0 L357.8 240.7 L351.9 240.7 M357.8 217.0 L350.4 217.0 L350.4 205.2 L364.4 205.2 L364.4 190.4 L343.0 190.4 L343.0 175.6 L356.3 175.6 L356.3 170.4 L409.6 170.4 L409.6 180.0 L420.0 180.0 M306.7 165.2 L337.0 165.2 L337.0 174.0 L343.0 175.6 M319.3 164.4 L320.0 160.7 L334.0 159.3 L334.8 154.8 L339.3 154.0 L341.5 146.7 M348.9 162.2 L363.7 162.2 L372.6 155.6 L378.5 154.8 M308.1 198.5 L314.1 198.5 L317.8 202.2 L328.1 201.5 L338.5 197.0 L347.4 200.7 L364.4 200.7 M339.3 200.7 L339.3 211.1 L334.1 218.5 L331.1 224.4 L328.1 223.0 L326.7 227.4 L316.3 229.6 L310.4 227.4 M372.6 190.4 L378.5 190.4 L379.3 199.3 L390.4 200.0 L393.3 203.7 L393.3 211.1 L402.2 202.2 L415.6 202.2 L415.6 224.4 M372.6 200.7 L374.1 206.7 L380.0 212.6 L388.9 212.6 L393.3 208.1 M359.3 220.7 L372.6 220.7 L372.6 225.2 M394.8 285.2 L394.8 275.6 L405.2 275.6 L406.7 277.8 L408.9 275.6 L420.0 275.6 M217.2 286.9 L211.0 286.9 L211.0 299.0 L200.0 299.0 L200.0 305.0 L196.0 310.0 M217.2 305.2 L252.9 305.2 L252.9 286.9 M231.5 309.3 L323.2 309.3 L323.2 286.9 M231.5 309.3 L231.5 327.6 M302.8 321.5 L323.2 321.5 M287.5 335.7 L287.5 325.6 L302.8 325.6 L302.8 321.5 M358.8 286.9 L358.8 352.0 M182.6 257.3 L182.6 286.9 M371.6 155.4 L690.0 155.4 M378.3 129.0 L378.3 155.4 M568.1 131.0 L568.1 155.4 M538.4 155.8 L538.4 175.3 L517.7 175.3 L517.7 180.5 L509.9 180.5 L509.9 190.2 L473.6 190.2 L473.6 188.2 L461.9 188.2 L461.9 182.4 M460.0 165.6 L502.8 165.6 L502.8 170.1 L517.7 170.1 L517.7 175.3 M460.0 176.6 L482.7 175.9 L482.7 180.5 L480.1 181.1 L480.7 185.3 L509.9 185.3 M545.6 155.8 L545.6 164.9 L552.7 165.6 L553.4 194.7 M520.9 195.4 L575.4 195.4 L575.4 199.9 L568.3 203.2 L568.3 220.7 L575.4 220.7 L575.4 225.2 L582.5 223.9 L595.5 223.3 L596.1 227.8 L589.7 233.0 L589.7 242.7 L596.1 245.3 L625.3 245.3 L625.3 249.2 L637.6 244.7 M520.9 195.4 L517.7 200.6 L517.7 210.3 L495.7 210.3 L495.7 217.4 L493.7 218.1 L493.7 226.5 L511.9 227.1 L511.9 234.9 L502.8 235.6 L502.8 238.2 L484.6 238.2 L484.6 230.4 M517.7 205.8 L539.1 205.8 L539.7 218.7 M495.7 217.4 L528.1 218.1 L528.7 214.2 L539.1 210.9 M532.0 220.7 L557.2 220.7 L555.9 226.5 L553.4 230.4 L553.4 238.2 L546.2 238.8 L546.2 243.4 L550.8 247.9 L557.9 248.5 L558.5 240.8 L567.6 244.0 L567.6 260.2 L575.4 260.9 L575.4 270.6 L582.5 270.6 L582.5 281.0 L611.7 281.6 L611.7 286.1 M511.9 230.4 L532.0 230.4 L532.0 220.7 M502.8 235.6 L524.2 235.6 L524.8 253.7 L526.8 256.3 L523.5 258.3 L517.0 260.2 L505.4 259.6 L498.9 262.8 L487.9 265.4 L482.0 264.1 L481.4 233.0 M524.8 253.7 L545.6 247.2 L546.2 243.4 M498.9 268.6 L528.7 268.6 L532.6 271.2 L536.5 271.9 L535.2 278.4 L539.1 283.5 L543.0 286.1 M555.9 234.9 L570.2 235.6 L575.4 238.2 L581.9 235.6 L579.3 239.5 L582.5 242.1 L588.4 240.1 L589.7 233.0 M595.5 223.3 L602.6 218.7 L610.4 214.2 L618.2 212.2 L619.5 215.5 L626.0 216.8 L626.6 220.7 L633.1 221.3 L633.7 225.2 L643.5 225.9 L644.1 235.6 L646.7 236.2 L646.7 240.1 L698.6 240.8 L698.6 245.3 M612.4 155.8 L612.4 165.6 L656.4 165.6 L657.1 195.4 L654.5 196.0 L654.5 210.9 L635.7 210.9 L618.2 211.6 M589.7 234.9 L606.5 235.6 L609.1 238.2 L616.9 238.2 L616.9 235.6 L626.0 235.6 L632.4 239.5 L631.2 242.7 L637.0 243.4 M625.3 249.2 L619.5 253.7 L622.1 257.0 L627.3 260.2 L637.6 262.8 L645.4 265.4 L646.7 269.9 L651.9 271.2 L661.0 267.3 L670.1 269.9 L674.6 275.1 L671.3 281.0 L659.7 284.8 M675.9 240.8 L675.9 251.1 L683.0 252.4 L684.3 255.0 L690.1 255.7 L691.4 257.6 L697.9 257.0 L697.9 285.5 M476.9 227.8 L477.5 248.5 L474.3 260.2 L472.3 277.1 L467.1 286.1 M460.0 226.5 L473.0 220.7 L484.0 220.7 M539.2 114.1 L547.2 122.5 L554.7 122.5 L558.4 126.3 L568.3 127.2 L573.9 126.7 L580.9 130.0 L589.4 130.9 M541.6 107.5 L548.1 107.0 L557.5 105.2 L561.3 105.2 L580.0 104.7 L583.8 102.8 L593.1 108.4 L590.3 116.4 L575.3 125.3 M557.5 105.2 L557.5 119.7 L568.3 120.2 L568.3 127.2 M554.7 117.3 L575.3 117.3 L575.3 112.7 L592.2 112.2 M590.3 116.4 L608.1 123.4 L608.1 128.6 L601.6 128.6 L597.8 131.9 M586.6 120.6 L588.9 130.0 M597.8 120.6 L597.8 130.9 M568.3 130.5 L576.0 130.5 L581.0 132.5 L590.5 132.0 M612.3 124.4 L612.3 135.6 L627.8 140.3 L675.6 140.3 M546.3 156.3 L545.3 165.2 L552.8 165.6 L553.3 175.0 M378.5 144.4 L378.5 154.8 M371.9 155.3 L371.9 160.0 L363.0 160.7 L363.0 163.0 L349.6 163.0 L348.9 165.2 L340.0 165.2 M409.6 180.0 L418.5 180.0 L418.5 175.6 L423.7 174.8 L423.7 170.4 L443.7 170.4 M409.6 180.0 L429.6 180.7 L429.6 187.4 L422.2 188.1 L420.0 191.9 L424.4 197.0 L427.4 199.3 L423.0 199.3 L414.1 203.7 L415.6 217.0 L412.6 220.7 L415.6 225.2 M364.4 191.1 L378.5 190.4 L379.3 200.0 L389.6 200.7 L393.3 205.2 L392.6 211.1 L384.4 213.3 L377.0 211.9 L373.3 206.7 L375.6 200.7 L364.4 200.7 M393.3 208.1 L400.7 203.0 L412.6 203.0 L414.1 203.7 M394.1 211.9 L400.7 212.6 L401.5 215.6 L408.1 216.3 L408.9 220.7 L415.6 220.7 M372.6 225.5 L440.7 225.5 M425.9 225.9 L425.9 230.4 L423.7 231.1 L423.7 245.9 L437.0 245.9 L437.0 255.6 L416.3 255.6 L416.3 275.6 L394.8 275.6 L394.8 285.9 M423.0 268.9 L459.3 268.1 L459.3 285.2 M444.4 268.1 L444.4 276.3 L452.6 277.8 L453.3 285.9 M440.7 225.5 L442.2 228.9 L448.9 228.9 L448.9 240.0 L463.0 240.0 L463.0 231.9 L466.7 230.4 M446.7 199.3 L458.5 209.6 L464.4 218.5 L464.4 224.4 L458.5 228.9 L454.1 240.7 L458.5 246.7 L452.6 252.6 L446.7 265.9 L444.4 268.1 M464.4 218.5 L473.3 220.7 L477.0 225.9 L477.8 252.6 L473.3 258.5 L473.3 273.3 L467.4 285.2 L465.9 300.0 M428.9 197.8 L428.9 205.2 L433.3 208.9 L447.4 210.4 L448.1 223.0 L441.5 225.5 M444.4 145.2 L444.4 159.3 L449.6 162.2 M444.4 145.2 L495.6 145.2 L495.6 150.4 L500.0 150.4 M420.7 140.0 L424.4 156.3 L425.2 160.0 M458.5 195.6 L480.7 195.6 L480.0 200.7 L495.6 200.7 L495.6 205.9 M463.0 205.2 L473.3 205.2 L474.1 212.6 L484.4 205.2 L495.6 205.2 M484.4 230.4 L484.4 245.2 L481.5 245.9 L481.5 261.5 L488.1 263.0 L500.0 262.2 M689.5 155.8 L689.5 163.0 L692.7 163.6 L692.7 165.6 L679.1 165.6 L679.1 195.4 L744.5 195.4 M712.7 195.4 L712.7 225.6 L719.4 225.6 L719.4 240.7 L646.0 240.7 L646.0 234.0 L642.0 234.0 M763.4 224.9 L763.4 285.2 M795.6 224.9 L795.6 243.0 L799.7 243.0 L799.7 285.2 M359.3 290.0 L359.3 352.0 M359.3 292.0 L380.0 292.0 L380.0 297.0 L388.0 297.0 L388.0 302.0 L395.0 302.0 L395.0 306.3 L432.0 306.3 L432.0 302.0 L438.0 302.0 M405.8 308.0 L405.8 322.0 L402.0 322.0 L402.0 346.0 L395.0 346.0 L395.0 355.0 M409.0 308.0 L438.0 308.0 L438.0 316.0 L423.0 316.0 L423.0 336.0 L440.0 340.0 M676.7 286.7 L676.7 317.0 L668.5 317.0 L668.5 326.7 L654.4 326.7 L654.4 331.9 L589.3 331.9 L589.3 341.5 L549.3 341.5 L549.3 336.3 L520.4 336.3 L520.4 331.9 M596.7 341.5 L668.5 342.2 L669.3 347.4 L697.4 347.4 M596.7 341.5 L595.9 372.6 L538.1 372.6 L538.1 399.3 L527.0 399.3 L527.0 396.3 L509.7 396.3 L509.7 422.2 M610.0 376.3 L695.9 376.3 M610.0 376.3 L610.0 386.7 L617.4 386.7 L617.4 396.3 L603.3 396.3 L603.3 401.5 L595.9 401.5 L588.5 405.9 L560.4 406.7 L560.4 411.9 L550.0 411.9 L550.0 415.6 L545.6 419.3 L538.9 419.3 M570.7 406.7 L570.7 416.3 L574.4 416.3 L574.4 419.3 L588.5 420.0 L598.9 426.7 L609.3 425.9 L618.1 424.4 L631.5 428.1 L647.8 431.1 L661.1 434.8 L668.5 428.1 L672.2 422.2 L668.5 417.8 L673.0 411.9 L680.4 403.0 L687.8 400.0 L695.9 400.7 M481.9 311.1 L481.9 345.2 L473.0 345.2 M481.9 331.9 L520.4 331.9 M481.9 318.5 L492.2 319.3 L499.6 317.0 L513.0 310.4 L513.0 318.5 L524.1 318.5 L524.1 325.9 L538.1 325.9 L538.1 322.2 L546.3 322.2 L546.3 316.3 L553.7 315.6 L553.7 311.1 L560.4 311.1 M481.9 311.1 L495.2 311.1 L495.2 304.4 L504.1 296.3 L515.9 290.4 L520.4 297.8 L529.3 302.2 L530.7 306.7 L544.1 306.7 L560.4 307.4 M530.7 306.7 L530.7 302.2 L538.1 301.5 L538.9 286.7 M524.1 336.3 L524.1 351.1 L498.9 352.6 L498.1 357.0 L489.3 357.8 M506.3 352.6 L506.3 360.0 L509.3 360.7 L505.6 363.0 L505.6 368.9 L494.4 368.9 L494.4 374.8 L498.1 379.3 L494.4 385.2 L508.5 390.4 L524.8 389.6 L523.3 386.7 L538.1 383.0 M480.4 391.1 L508.5 391.1 M475.9 400.7 L509.7 400.7 M524.8 422.2 L524.8 416.3 L538.1 416.3 L538.1 431.1 L524.8 431.1 M448.0 300.0 L456.0 312.0 L465.0 318.0 L470.0 330.0 L468.0 345.0 L474.0 356.0 M652.5 482.8 L652.5 506.9 M600.5 486.1 L652.5 486.6 M613.1 496.5 L652.5 496.5 M659.1 483.9 L695.2 483.4 M659.1 483.9 L659.1 498.1 L664.5 506.9 M559.5 442.9 L559.5 453.3 L538.7 453.3 L538.7 456.6 M545.3 441.2 L554.1 444.5 L559.5 442.9 L567.2 443.4 L575.9 438.5 L585.8 437.4 L591.2 432.5 L597.8 426.5 L608.7 425.9 L616.4 425.4 L625.2 425.9 L631.7 429.2 L645.9 431.4 L659.1 435.8 L662.3 440.2 L656.9 444.5 L637.2 447.8 L633.9 453.3 L636.1 458.7 L641.6 463.1 L641.6 468.6 L652.5 482.8 M625.2 433.6 L631.7 433.0 L631.7 429.2 M624.6 433.6 L624.6 441.8 L610.9 442.3 L610.4 448.9 L588.5 450.0 L588.0 452.2 M584.7 452.2 L584.7 465.3 L588.5 465.3 L588.5 468.6 L580.3 469.1 L580.3 472.4 L573.7 473.0 L573.2 480.6 M602.2 447.8 L602.2 453.3 L604.4 457.7 L601.1 469.7 L593.4 485.0 L590.2 491.6 M604.4 457.7 L615.3 456.6 L627.3 456.6 L627.3 458.7 L621.9 459.3 L621.9 462.0 L624.6 462.0 L624.6 466.4 L630.6 468.6 L630.6 476.2 M609.3 467.5 L609.3 471.9 L605.5 473.0 M600.0 482.8 L604.4 480.6 L615.3 477.3 L630.6 476.2 L641.6 478.4 L650.3 482.8 L652.5 486.1 M573.7 476.2 L591.2 475.7 L597.8 476.2 M509.2 471.9 L520.2 466.4 L531.1 465.3 M538.7 418.3 L538.7 431.4 L524.5 431.4 L524.5 441.2 M545.3 421.6 L551.9 422.7 L548.6 425.9 L551.9 429.2 L549.7 434.7 L545.3 441.2 M570.5 415.0 L574.8 419.4 L589.1 419.9 L595.6 421.6 L597.8 426.5 M668.9 415.0 L672.2 422.7 L667.8 431.4 L662.3 435.2 M580.0 489.0 L580.0 507.0 M580.0 496.5 L598.0 496.5 M590.0 489.0 L590.0 507.0 M602.0 501.5 L602.0 520.0 M612.5 496.5 L612.5 520.0 M695.0 497.3 L695.0 578.0 M709.5 497.3 L709.5 545.0 L703.0 560.0 L710.0 556.0 M773.3 497.3 L773.3 526.7 M802.2 497.3 L802.2 497.3" fill="none" stroke="#741313" stroke-width="0.9"/>
<polygon points="157.2,191.0 169.0,191.0 169.5,188.5 171.5,188.5 171.5,191.0 178.6,191.0 178.6,225.0 157.2,225.0" fill="#0c0a0b"/>
<polygon points="236.6,210.1 307.3,210.1 309.9,257.3 251.9,257.3 236.6,241.0 240.6,235.9 236.6,229.8 229.4,225.7 221.9,224.7 221.9,219.6 236.6,219.6" fill="#0c0a0b"/>
</g></svg></div>
<div class="logo"></div>
<div class="b" style="left:1044px;top:80px;width:828px;height:1px;background:#0f4853;"></div>
<div class="b" style="left:1044px;top:307px;width:828px;height:1px;background:#211f20;"></div>
<div class="b" style="left:1044px;top:338px;width:828px;height:1px;background:#211f20;"></div>
<div class="b" style="left:1044px;top:430px;width:828px;height:1px;background:#211f20;"></div>
<div class="b" style="left:1044px;top:471px;width:828px;height:1px;background:#211f20;"></div>
<div class="b" style="left:1044px;top:512px;width:828px;height:1px;background:#211f20;"></div>
<div class="b" style="left:1044px;top:555px;width:828px;height:1px;background:#211f20;"></div>
<div class="b" style="left:1044px;top:387px;width:828px;height:1px;background:#2e2b2c;"></div>
<div class="b" style="left:1044px;top:564px;width:828px;height:1px;background:#2e2b2c;"></div>
<div class="b" style="left:1044px;top:632px;width:265px;height:1px;background:#211f20;"></div>
<div class="b" style="left:1325px;top:632px;width:265px;height:1px;background:#211f20;"></div>
<div class="b" style="left:1607px;top:632px;width:265px;height:1px;background:#211f20;"></div>
<div class="b" style="left:1044px;top:689px;width:265px;height:1px;background:#211f20;"></div>
<div class="b" style="left:1044px;top:740px;width:265px;height:1px;background:#211f20;"></div>
<div class="b" style="left:1044px;top:771px;width:265px;height:1px;background:#211f20;"></div>
<div class="b" style="left:1044px;top:804px;width:265px;height:1px;background:#211f20;"></div>
<div class="b" style="left:1044px;top:835px;width:265px;height:1px;background:#211f20;"></div>
<div class="b" style="left:1325px;top:670px;width:265px;height:1px;background:#211f20;"></div>
<div class="b" style="left:1325px;top:702px;width:265px;height:1px;background:#211f20;"></div>
<div class="b" style="left:1325px;top:734px;width:265px;height:1px;background:#211f20;"></div>
<div class="b" style="left:1325px;top:766px;width:265px;height:1px;background:#211f20;"></div>
<div class="b" style="left:1325px;top:797px;width:265px;height:1px;background:#211f20;"></div>
<div class="b" style="left:1044px;top:875px;width:828px;height:1px;background:#211f20;"></div>
<div class="b" style="left:1044px;top:894px;width:1px;height:48px;background:#211f20;"></div>
<div class="b" style="left:1257px;top:894px;width:1px;height:48px;background:#211f20;"></div>
<div class="b" style="left:1470px;top:894px;width:1px;height:48px;background:#211f20;"></div>
<div class="b" style="left:1683px;top:894px;width:1px;height:48px;background:#211f20;"></div>
<div class="b" style="left:1044px;top:995px;width:463px;height:1px;background:#0f4853;"></div>
<div class="b" style="left:1166px;top:258px;width:12.5px;height:1.3px;background:#a69b94;"></div>
<div class="b" style="left:1435px;top:362px;width:17px;height:2.6px;background:#f5f3f2;"></div>
<div class="b" style="left:1435px;top:409px;width:14px;height:2px;background:#f5f3f2;"></div>
<div class="b" style="left:1435px;top:450px;width:14px;height:2px;background:#f5f3f2;"></div>
<div class="b" style="left:1435px;top:492px;width:14px;height:2px;background:#f5f3f2;"></div>
<div class="b" style="left:1435px;top:534px;width:14px;height:2px;background:#f5f3f2;"></div>
<div class="b" style="left:1239px;top:661px;width:70px;height:6px;background:#1d1b1c;border-radius:3px;"></div>
<div class="b" style="left:1239px;top:661px;width:52.64px;height:6px;background:#94a3b8;border-radius:3px;"></div>
<div class="b" style="left:1239px;top:712px;width:70px;height:6px;background:#1d1b1c;border-radius:3px;"></div>
<div class="b" style="left:1239px;top:712px;width:7.7px;height:6px;background:#e08a16;border-radius:3px;"></div>
<div class="b" style="left:1239px;top:753px;width:70px;height:6px;background:#1d1b1c;border-radius:3px;"></div>
<div class="b" style="left:1239px;top:753px;width:1.2px;height:6px;background:#a78bfa;border-radius:3px;"></div>
<div class="b" style="left:1239px;top:784.8px;width:70px;height:6px;background:#1d1b1c;border-radius:3px;"></div>
<div class="b" style="left:1239px;top:784.8px;width:2.52px;height:6px;background:#34d399;border-radius:3px;"></div>
<div class="b" style="left:1239px;top:816.3px;width:70px;height:6px;background:#1d1b1c;border-radius:3px;"></div>
<div class="b" style="left:1239px;top:816.3px;width:1.2px;height:6px;background:#f97316;border-radius:3px;"></div>
<div class="b" style="left:1520px;top:650.8px;width:70px;height:6px;background:#1d1b1c;border-radius:3px;"></div>
<div class="b" style="left:1520px;top:650.8px;width:11.48px;height:6px;background:#94a3b8;border-radius:3px;"></div>
<div class="b" style="left:1520px;top:682.6px;width:70px;height:6px;background:#1d1b1c;border-radius:3px;"></div>
<div class="b" style="left:1520px;top:682.6px;width:9.24px;height:6px;background:#94a3b8;border-radius:3px;"></div>
<div class="b" style="left:1520px;top:714.5px;width:70px;height:6px;background:#1d1b1c;border-radius:3px;"></div>
<div class="b" style="left:1520px;top:714.5px;width:7.35px;height:6px;background:#94a3b8;border-radius:3px;"></div>
<div class="b" style="left:1520px;top:746.9px;width:70px;height:6px;background:#1d1b1c;border-radius:3px;"></div>
<div class="b" style="left:1520px;top:746.9px;width:6.37px;height:6px;background:#e08a16;border-radius:3px;"></div>
<div class="b" style="left:1520px;top:778.7px;width:70px;height:6px;background:#1d1b1c;border-radius:3px;"></div>
<div class="b" style="left:1520px;top:778.7px;width:3.92px;height:6px;background:#94a3b8;border-radius:3px;"></div>
<div class="tl">
<div class="t" id="t0" style="top:34.20px;font-size:30.5px;color:#f5f3f2;letter-spacing:-1.068px;left:1080.5px;transform:scaleX(0.9693);transform-origin:0 0;">Akashic Edge</div>
<div class="t" id="t1" style="top:42.80px;font-size:17.5px;color:#a69b94;letter-spacing:-0.315px;right:49.3147px;">akashicedge.com</div>
<div class="t" id="t2" style="top:93.30px;font-size:17px;color:#a69b94;letter-spacing:0.263px;left:1044px;">Congressional district</div>
<div class="t" id="t3" style="top:120.40px;font-size:56px;color:#f5f3f2;letter-spacing:-1.960px;left:1045.3px;transform:scaleX(0.9715);transform-origin:0 0;">Washington's</div>
<div class="t" id="t4" style="top:120.40px;font-size:56px;color:#f5f3f2;letter-spacing:-0.578px;left:1393px;">3rd</div>
<div class="t" id="t5" style="top:120.40px;font-size:56px;color:#f5f3f2;letter-spacing:-1.960px;left:1491.2px;transform:scaleX(0.9687);transform-origin:0 0;">Congressional</div>
<div class="t" id="t6" style="top:120.40px;font-size:56px;color:#f5f3f2;letter-spacing:-0.420px;left:1857px;">District</div>
<div class="t" id="t7" style="top:191.00px;font-size:20.5px;color:#a69b94;letter-spacing:-0.511px;left:1044px;">Latest presidential: 2024</div>
<div class="t" id="t8" style="top:225.30px;font-size:40px;color:#f87171;letter-spacing:-1.400px;left:1043.5px;transform:scaleX(0.9646);transform-origin:0 0;">R +3.3</div>
<div class="t" id="t9" style="top:250.50px;font-size:15px;color:#a69b94;left:1182px;">·</div>
<div class="t" id="t10" style="top:250.50px;font-size:15px;color:#a69b94;letter-spacing:1.608px;left:1187.5px;">2024</div>
<div class="t" id="t11" style="top:279.50px;font-size:18px;color:#f5f3f2;letter-spacing:-0.118px;left:1044px;">Presidential Vote · 2008–2024</div>
<div class="t" id="t12" style="top:315.00px;font-size:14px;color:#a69b94;letter-spacing:-0.198px;left:1044px;">Year</div>
<div class="t" id="t13" style="top:315.00px;font-size:14px;color:#a69b94;letter-spacing:-0.490px;left:1114px;transform:scaleX(0.9390);transform-origin:0 0;">Dem %</div>
<div class="t" id="t14" style="top:315.00px;font-size:14px;color:#a69b94;letter-spacing:-0.490px;left:1214px;transform:scaleX(0.9060);transform-origin:0 0;">Rep %</div>
<div class="t" id="t15" style="top:315.00px;font-size:14px;color:#a69b94;letter-spacing:-0.178px;left:1314px;">Margin</div>
<div class="t" id="t16" style="top:315.00px;font-size:14px;color:#a69b94;letter-spacing:-0.266px;left:1434px;">Winner</div>
<div class="t" id="t17" style="top:351.25px;font-size:21.8px;color:#f5f3f2;letter-spacing:1.167px;left:1044px;">2024</div>
<div class="t" id="t18" style="top:351.25px;font-size:21.8px;color:#60a5fa;letter-spacing:-0.763px;left:1114px;transform:scaleX(0.9756);transform-origin:0 0;">46.7 %</div>
<div class="t" id="t19" style="top:351.25px;font-size:21.8px;color:#f87171;letter-spacing:-0.763px;left:1214px;transform:scaleX(0.9913);transform-origin:0 0;">49.9 %</div>
<div class="t" id="t20" style="top:351.25px;font-size:21.8px;color:#f87171;letter-spacing:-0.763px;left:1314px;transform:scaleX(0.9998);transform-origin:0 0;">R +3.3</div>
<div class="t" id="t21" style="top:399.25px;font-size:18px;color:#f5f3f2;letter-spacing:1.051px;left:1044px;">2020</div>
<div class="t" id="t22" style="top:399.25px;font-size:18px;color:#60a5fa;letter-spacing:-0.630px;left:1114px;transform:scaleX(0.9679);transform-origin:0 0;">46.3 %</div>
<div class="t" id="t23" style="top:399.25px;font-size:18px;color:#f87171;letter-spacing:-0.630px;left:1214px;transform:scaleX(0.9830);transform-origin:0 0;">50.5 %</div>
<div class="t" id="t24" style="top:399.25px;font-size:18px;color:#f87171;letter-spacing:-0.609px;left:1314px;">R +4.2</div>
<div class="t" id="t25" style="top:440.40px;font-size:18px;color:#f5f3f2;letter-spacing:-0.616px;left:1044px;">2016</div>
<div class="t" id="t26" style="top:440.40px;font-size:18px;color:#60a5fa;letter-spacing:-0.630px;left:1114px;transform:scaleX(0.9887);transform-origin:0 0;">42.4 %</div>
<div class="t" id="t27" style="top:440.40px;font-size:18px;color:#f87171;letter-spacing:-0.409px;left:1214px;">50.0 %</div>
<div class="t" id="t28" style="top:440.40px;font-size:18px;color:#f87171;letter-spacing:-0.630px;left:1314px;transform:scaleX(0.9624);transform-origin:0 0;">R +7.6</div>
<div class="t" id="t29" style="top:482.20px;font-size:18px;color:#f5f3f2;letter-spacing:-0.616px;left:1044px;">2012</div>
<div class="t" id="t30" style="top:482.20px;font-size:18px;color:#60a5fa;letter-spacing:-0.630px;left:1114px;transform:scaleX(0.9793);transform-origin:0 0;">49.2 %</div>
<div class="t" id="t31" style="top:482.20px;font-size:18px;color:#f87171;letter-spacing:-0.630px;left:1214px;transform:scaleX(0.9963);transform-origin:0 0;">50.8 %</div>
<div class="t" id="t32" style="top:482.20px;font-size:18px;color:#f87171;letter-spacing:-0.630px;left:1314px;transform:scaleX(0.9266);transform-origin:0 0;">R +1.6</div>
<div class="t" id="t33" style="top:523.70px;font-size:18px;color:#f5f3f2;letter-spacing:1.118px;left:1044px;">2008</div>
<div class="t" id="t34" style="top:523.70px;font-size:18px;color:#60a5fa;letter-spacing:-0.630px;left:1114px;transform:scaleX(0.9887);transform-origin:0 0;">50.8 %</div>
<div class="t" id="t35" style="top:523.70px;font-size:18px;color:#f87171;letter-spacing:-0.569px;left:1214px;">47.0 %</div>
<div class="t" id="t36" style="top:523.70px;font-size:18px;color:#60a5fa;letter-spacing:-0.349px;left:1314px;">D +3.8</div>
<div class="t" id="t37" style="top:574.50px;font-size:16px;color:#a69b94;letter-spacing:-0.430px;left:1044px;">Net swing 2008 → 2024</div>
<div class="t" id="t38" style="top:574.70px;font-size:16px;color:#f87171;letter-spacing:-0.560px;right:49.5246px;transform:scaleX(0.9367);transform-origin:100% 0;">R +7.1 pts</div>
<div class="t" id="t39" style="top:604.50px;font-size:18px;color:#f5f3f2;letter-spacing:-0.630px;left:1044px;transform:scaleX(0.9955);transform-origin:0 0;">Race &amp; Ethnicity</div>
<div class="t" id="t40" style="top:604.50px;font-size:18px;color:#f5f3f2;letter-spacing:-0.502px;left:1325px;">Top Ancestries</div>
<div class="t" id="t41" style="top:604.50px;font-size:18px;color:#f5f3f2;letter-spacing:-0.630px;left:1607px;transform:scaleX(0.9760);transform-origin:0 0;">Religious Composition</div>
<div class="t" id="t42" style="top:639.30px;font-size:15px;color:#a69b94;letter-spacing:-0.098px;left:1607px;">No data.</div>
<div class="t" id="t43" style="top:645.75px;font-size:15px;color:#f5f3f2;letter-spacing:-0.166px;left:1044px;">White, non-</div>
<div class="t" id="t44" style="top:664.50px;font-size:15px;color:#f5f3f2;letter-spacing:-0.525px;left:1044px;transform:scaleX(0.9888);transform-origin:0 0;">Hispanic</div>
<div class="t" id="t45" style="top:654.50px;font-size:15px;color:#b5aaa3;letter-spacing:-0.525px;left:1164.5px;transform:scaleX(0.9529);transform-origin:0 0;">75.2 %</div>
<div class="t" id="t46" style="top:697.00px;font-size:15px;color:#f5f3f2;letter-spacing:-0.525px;left:1044px;transform:scaleX(0.9904);transform-origin:0 0;">Hispanic or</div>
<div class="t" id="t47" style="top:715.75px;font-size:15px;color:#f5f3f2;letter-spacing:-0.360px;left:1044px;">Latino</div>
<div class="t" id="t48" style="top:705.75px;font-size:15px;color:#b5aaa3;letter-spacing:-0.525px;left:1164.5px;transform:scaleX(0.8832);transform-origin:0 0;">11.0 %</div>
<div class="t" id="t49" style="top:748.00px;font-size:15px;color:#f5f3f2;letter-spacing:-0.525px;left:1044px;transform:scaleX(0.9834);transform-origin:0 0;">Black</div>
<div class="t" id="t50" style="top:748.00px;font-size:15px;color:#b5aaa3;letter-spacing:-0.525px;left:1164.5px;transform:scaleX(0.8605);transform-origin:0 0;">1.7 %</div>
<div class="t" id="t51" style="top:780.00px;font-size:15px;color:#f5f3f2;letter-spacing:-0.525px;left:1044px;transform:scaleX(0.9856);transform-origin:0 0;">Asian</div>
<div class="t" id="t52" style="top:780.00px;font-size:15px;color:#b5aaa3;letter-spacing:-0.525px;left:1164.5px;transform:scaleX(0.9515);transform-origin:0 0;">3.6 %</div>
<div class="t" id="t53" style="top:811.40px;font-size:15px;color:#f5f3f2;letter-spacing:-0.124px;left:1044px;">AIAN</div>
<div class="t" id="t54" style="top:811.40px;font-size:15px;color:#b5aaa3;letter-spacing:-0.525px;left:1164.5px;transform:scaleX(0.8743);transform-origin:0 0;">1.2 %</div>
<div class="t" id="t55" style="top:645.75px;font-size:15px;color:#f5f3f2;letter-spacing:-0.141px;left:1325px;">German</div>
<div class="t" id="t56" style="top:645.75px;font-size:15px;color:#b5aaa3;letter-spacing:-0.525px;left:1445.8px;transform:scaleX(0.9120);transform-origin:0 0;">16.4 %</div>
<div class="t" id="t57" style="top:677.75px;font-size:15px;color:#f5f3f2;letter-spacing:-0.525px;left:1325px;transform:scaleX(0.9447);transform-origin:0 0;">English</div>
<div class="t" id="t58" style="top:677.75px;font-size:15px;color:#b5aaa3;letter-spacing:-0.525px;left:1445.8px;transform:scaleX(0.8848);transform-origin:0 0;">13.2 %</div>
<div class="t" id="t59" style="top:709.50px;font-size:15px;color:#f5f3f2;letter-spacing:-0.525px;left:1325px;transform:scaleX(0.9801);transform-origin:0 0;">Irish</div>
<div class="t" id="t60" style="top:709.50px;font-size:15px;color:#b5aaa3;letter-spacing:-0.525px;left:1445.8px;transform:scaleX(0.9347);transform-origin:0 0;">10.5 %</div>
<div class="t" id="t61" style="top:741.50px;font-size:15px;color:#f5f3f2;letter-spacing:-0.367px;left:1325px;">Mexican</div>
<div class="t" id="t62" style="top:741.50px;font-size:15px;color:#b5aaa3;letter-spacing:-0.525px;left:1445.8px;transform:scaleX(0.8605);transform-origin:0 0;">9.1 %</div>
<div class="t" id="t63" style="top:773.50px;font-size:15px;color:#f5f3f2;letter-spacing:-0.296px;left:1325px;">American</div>
<div class="t" id="t64" style="top:773.50px;font-size:15px;color:#b5aaa3;letter-spacing:-0.525px;left:1445.8px;transform:scaleX(0.9377);transform-origin:0 0;">5.6 %</div>
<div class="t" id="t65" style="top:847.80px;font-size:18px;color:#f5f3f2;letter-spacing:-0.630px;left:1044px;transform:scaleX(0.9751);transform-origin:0 0;">Economics &amp; Language</div>
<div class="t" id="t66" style="top:894.40px;font-size:14px;color:#a69b94;letter-spacing:-0.463px;left:1059px;">Median HH income</div>
<div class="t" id="t67" style="top:917.90px;font-size:23.5px;color:#f5f3f2;letter-spacing:-0.442px;left:1059px;">$90,428</div>
<div class="t" id="t68" style="top:894.40px;font-size:14px;color:#a69b94;letter-spacing:-0.085px;left:1272px;">Poverty rate</div>
<div class="t" id="t69" style="top:917.90px;font-size:23.5px;color:#f5f3f2;letter-spacing:-0.823px;left:1272px;transform:scaleX(0.8802);transform-origin:0 0;">9.3 %</div>
<div class="t" id="t70" style="top:894.40px;font-size:14px;color:#a69b94;letter-spacing:-0.490px;left:1485px;transform:scaleX(0.9944);transform-origin:0 0;">English at home</div>
<div class="t" id="t71" style="top:917.90px;font-size:23.5px;color:#f5f3f2;letter-spacing:-0.823px;left:1485px;transform:scaleX(0.9079);transform-origin:0 0;">86.3 %</div>
<div class="t" id="t72" style="top:894.40px;font-size:14px;color:#a69b94;letter-spacing:-0.207px;left:1698px;">Other language</div>
<div class="t" id="t73" style="top:917.90px;font-size:23.5px;color:#f5f3f2;letter-spacing:-0.823px;left:1698px;transform:scaleX(0.8297);transform-origin:0 0;">13.7 %</div>
<div class="t" id="t74" style="top:1007.50px;font-size:12.5px;color:#8a807a;letter-spacing:-0.136px;left:1044px;">Sources: Akashic Edge elections database · PL 94-171 (2020) · ACS 5-yr B04006</div>
<div class="t" id="t75" style="top:1026.70px;font-size:13.5px;color:#b5aaa3;letter-spacing:0.097px;left:1044px;">akashicedge.com/districts/wa-03</div>
<div class="t" id="t76" style="top:648.00px;font-size:18px;color:#b5aaa3;letter-spacing:-0.630px;left:527.685px;transform:translateX(-50%) scaleX(0.9844);">2024 · Dem 46.7 % · Rep 49.9 %</div>
</div>
</body></html>
